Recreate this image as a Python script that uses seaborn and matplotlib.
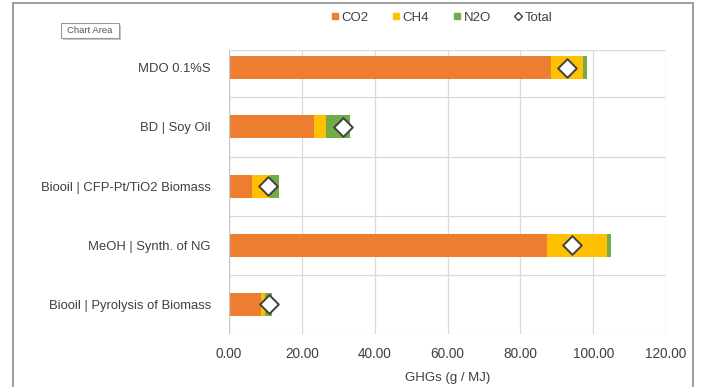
import matplotlib
matplotlib.use("Agg")
import matplotlib.pyplot as plt
import seaborn as sns
import pandas as pd
import numpy as np
from matplotlib.lines import Line2D
from matplotlib.patches import Rectangle

categories = ["MDO 0.1%S", "BD | Soy Oil", "Biooil | CFP-Pt/TiO2 Biomass",
              "MeOH | Synth. of NG", "Biooil | Pyrolysis of Biomass"]
co2 = [88.5, 23.4, 6.4, 87.3, 8.8]
ch4 = [8.6, 3.2, 4.9, 16.5, 1.1]
n2o = [1.1, 6.6, 2.4, 1.0, 1.8]
total = [92.8, 31.4, 10.8, 94.1, 11.1]
xticks = [0, 20, 40, 60, 80, 100, 120]

C_CO2 = "#ED7D31"
C_CH4 = "#FFC000"
C_N2O = "#70AD47"
TXT = "#404040"

df = pd.DataFrame({"cat": categories, "CO2": co2, "CH4": ch4, "N2O": n2o, "Total": total})
df["s1"] = df["CO2"]
df["s2"] = df["CO2"] + df["CH4"]
df["s3"] = df["s2"] + df["N2O"]

sns.set_theme(style="white")
plt.rcParams["font.family"] = ["Liberation Sans", "DejaVu Sans"]

fig = plt.figure(figsize=(7.01, 3.87), dpi=100)
ax = fig.add_axes([229/701, 1-334/387, (666-229)/701, (334-50)/387])

w = 0.39
sns.barplot(data=df, y="cat", x="s3", color=C_N2O, width=w, ax=ax, saturation=1, order=categories)
sns.barplot(data=df, y="cat", x="s2", color=C_CH4, width=w, ax=ax, saturation=1, order=categories)
sns.barplot(data=df, y="cat", x="s1", color=C_CO2, width=w, ax=ax, saturation=1, order=categories)
for p in ax.patches:
    p.set_linewidth(0)
sns.scatterplot(data=df, y="cat", x="Total", marker="D", s=90, color="white",
                edgecolor="#404040", linewidth=1.4, ax=ax, zorder=5)

ax.set_xlim(0, 120)
ax.set_ylim(4.5, -0.3)
ax.set_xticks(xticks)
ax.set_xticklabels([f"{v:.2f}" for v in xticks], fontsize=9.8, color=TXT)
ax.tick_params(axis="x", length=0, pad=9)
ax.tick_params(axis="y", length=0, pad=13, labelsize=9.4, labelcolor=TXT)
ax.set_ylabel("")
ax.set_xlabel("GHGs (g / MJ)", fontsize=9.5, color=TXT, labelpad=8)

for v in xticks:
    ax.axvline(v, color="#d9d9d9", lw=0.9, zorder=0)
for yy in [-0.5, 0.5, 1.5, 2.5, 3.5, 4.5]:
    ax.axhline(yy, color="#d9d9d9", lw=0.9, zorder=0)
ax.axhline(-0.3, color="#d9d9d9", lw=0.9, zorder=0)
for s in ax.spines.values():
    s.set_visible(False)
ax.axvline(0, color="#c8c8c8", lw=1.0, zorder=1)

handles = [
    Line2D([], [], marker="s", ls="", color=C_CO2, markersize=5),
    Line2D([], [], marker="s", ls="", color=C_CH4, markersize=5),
    Line2D([], [], marker="s", ls="", color=C_N2O, markersize=5),
    Line2D([], [], marker="D", ls="", markerfacecolor="white", markeredgecolor="#404040",
           markersize=4, markeredgewidth=1),
]
fig.legend(handles, ["CO2", "CH4", "N2O", "Total"], loc="center", ncol=4,
           bbox_to_anchor=(441/701, 1-18/387), frameon=False, fontsize=9.5,
           handletextpad=0.1, columnspacing=1.7, handlelength=0.8, labelcolor=TXT)

fig.patches.append(Rectangle((13/701, -0.05), (693-13)/701, 1.05-3/387, transform=fig.transFigure,
                             fill=False, edgecolor="#8c8c8c", lw=1.2))

# tooltip: shadow, box, text
bx0, by0, bw, bh = 61, 23, 58, 15
fig.patches.append(Rectangle(((bx0+2)/701, 1-(by0+bh+2)/387), bw/701, bh/387,
                             transform=fig.transFigure, fc="#c8c8c8", ec="none"))
fig.patches.append(Rectangle((bx0/701, 1-(by0+bh)/387), bw/701, bh/387,
                             transform=fig.transFigure, fc="white", ec="#999999", lw=0.8))
fig.text((bx0+bw/2)/701, 1-(by0+bh/2)/387, "Chart Area", fontsize=6.8, color="#555555",
         ha="center", va="center")

fig.savefig("out.png", dpi=100)
